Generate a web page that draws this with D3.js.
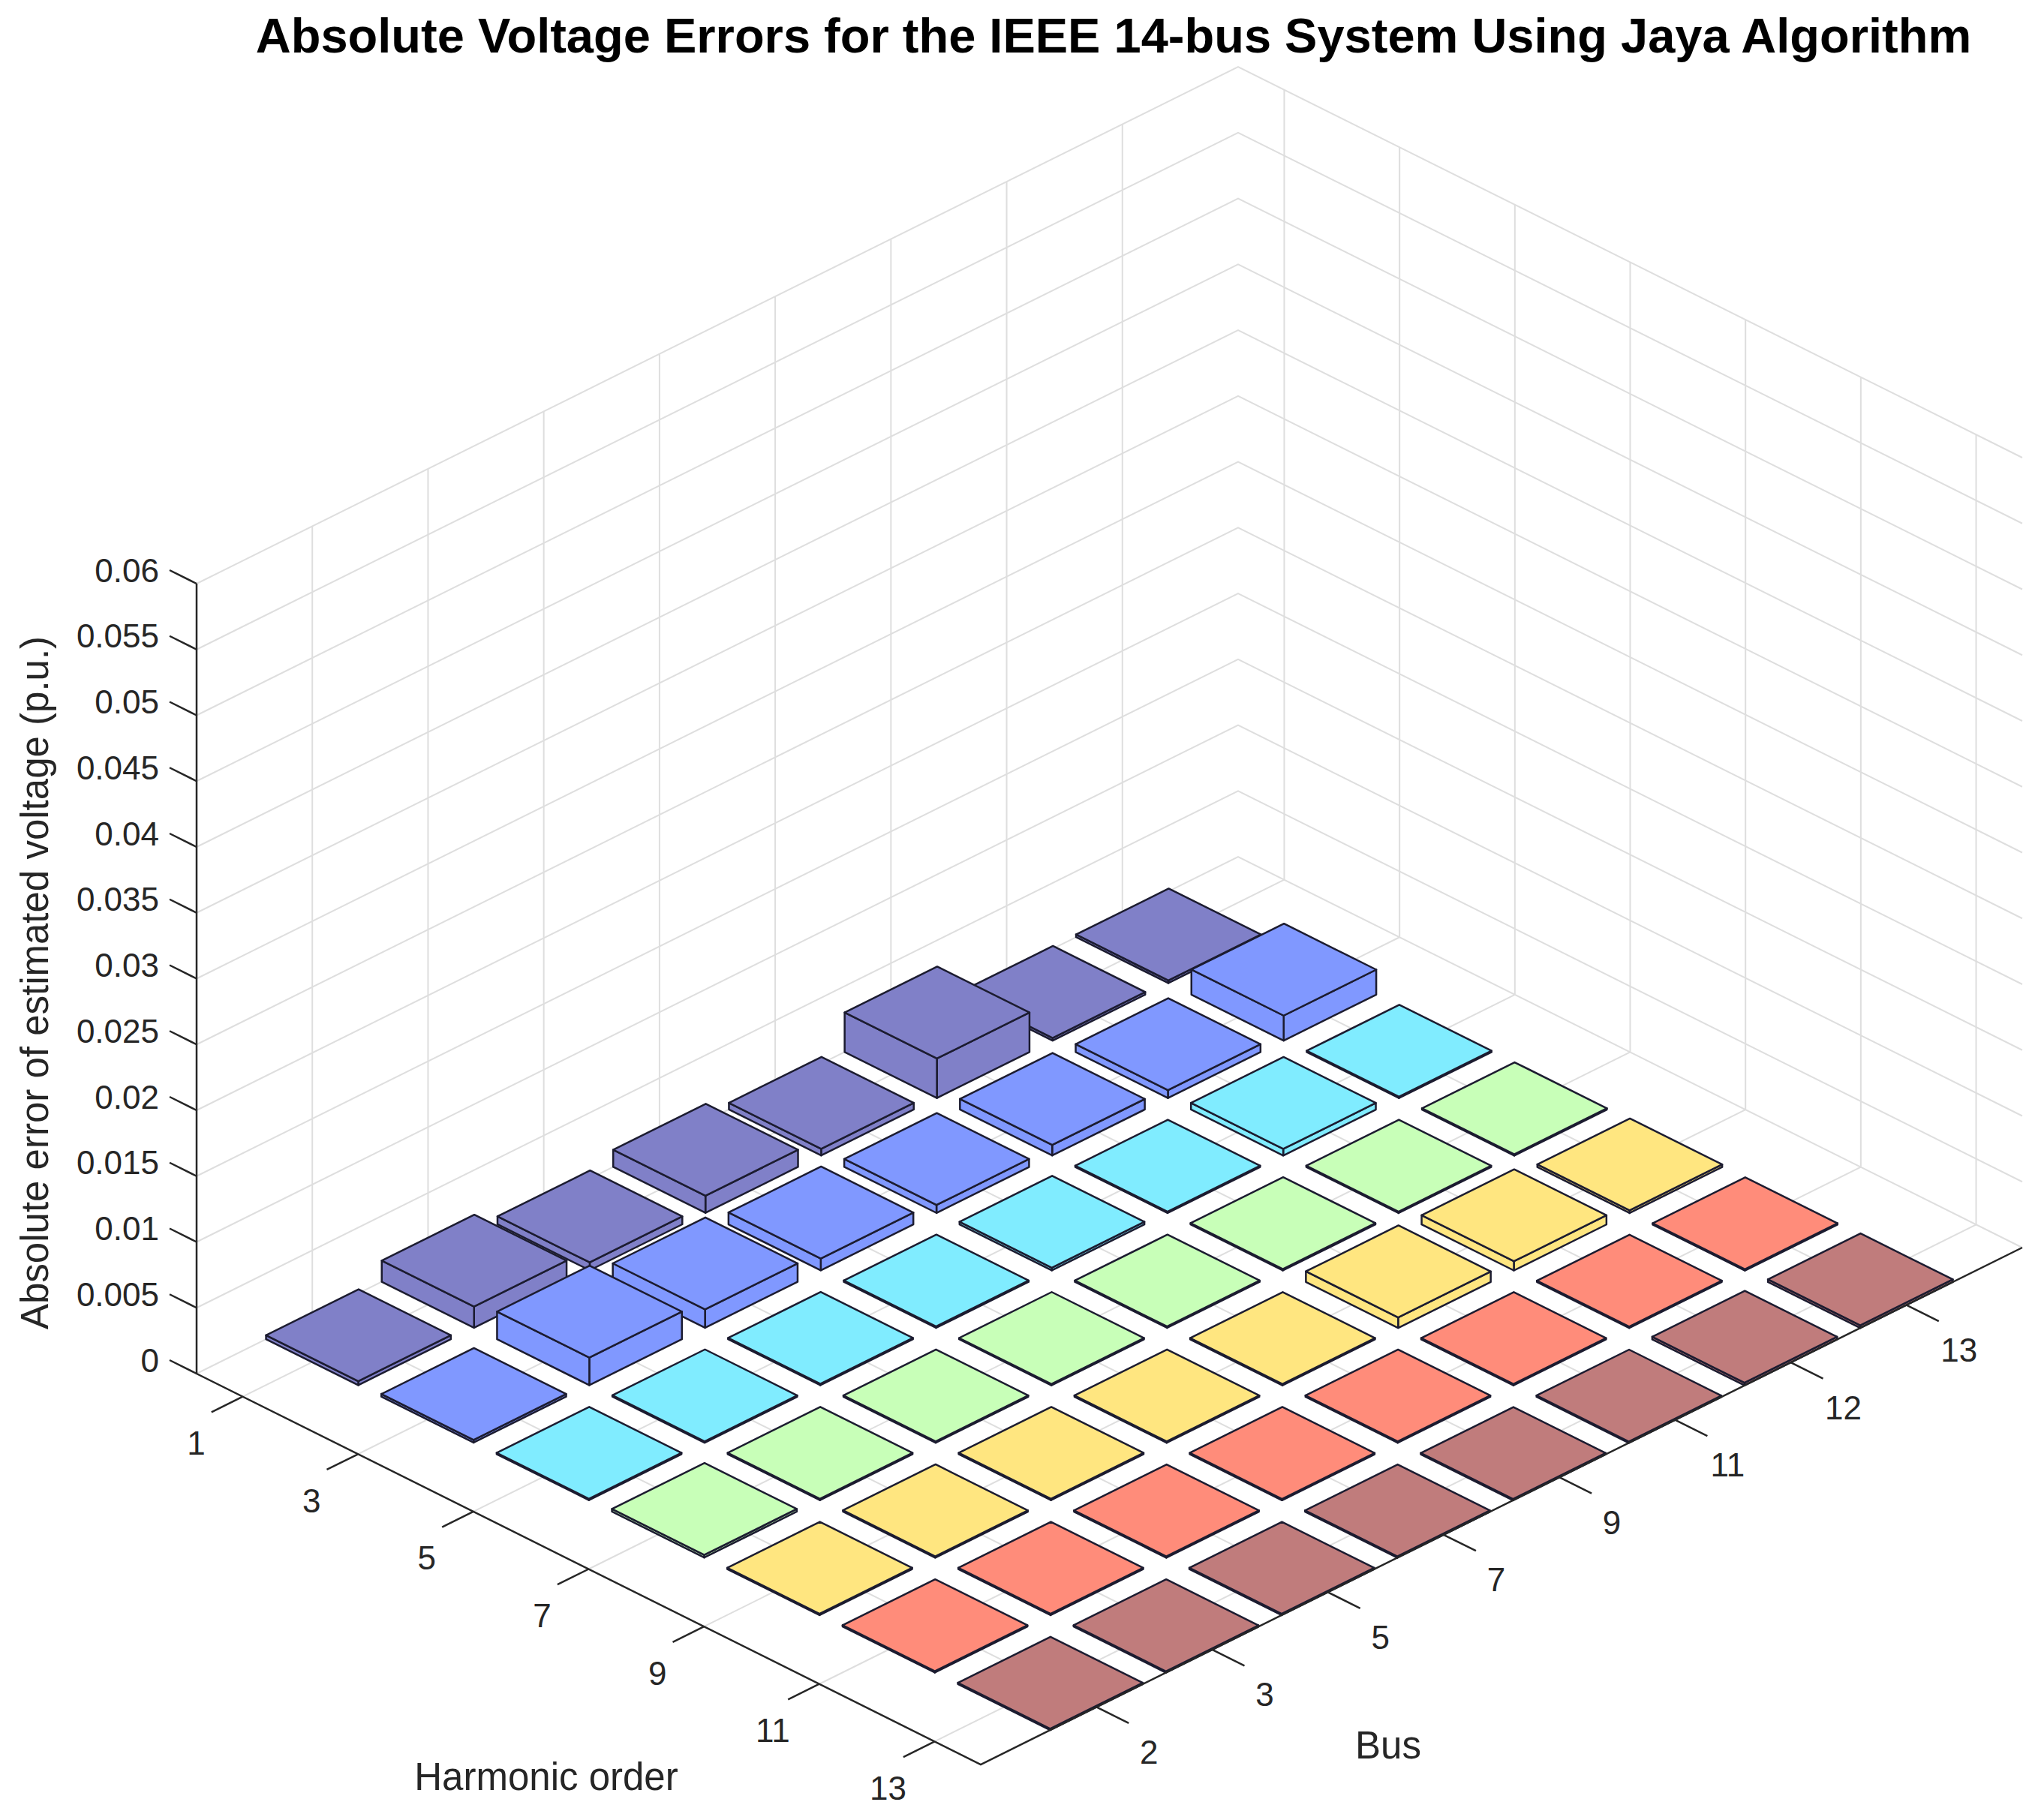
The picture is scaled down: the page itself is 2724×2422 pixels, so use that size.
<!DOCTYPE html>
<html>
<head>
<meta charset="utf-8">
<script src="https://cdn.jsdelivr.net/npm/d3@7"></script>
<style>
  body { margin: 0; background: #fff; }
  text { font-family: "Liberation Sans", Arial, sans-serif; fill: #262626; }
</style>
</head>
<body>
<svg id="chart" width="2724" height="2422"></svg>
<script>
(function() {

    // data
    var harmonics = [1, 3, 5, 7, 9, 11, 13];
    var buses = [2, 3, 5, 7, 9, 11, 12, 13];
    var zTicks = [0, 0.005, 0.01, 0.015, 0.02, 0.025, 0.03, 0.035, 0.04, 0.045, 0.05, 0.055, 0.06];
    var colors = ['#8080c8', '#8098ff', '#80ecff', '#c8ffb8', '#ffe680', '#ff8c7a', '#c07c7c'];

    // one row per harmonic, values per bus
    var errH1  = [0.0003, 0.0016, 0.0006, 0.0013, 0.0005, 0.0030, 0.0002, 0.0002];
    var errH3  = [0.0002, 0.0021, 0.0014, 0.0009, 0.0006, 0.0008, 0.0006, 0.0019];
    var errH5  = [0.0001, 0.0001, 0.0001, 0.0001, 0.0002, 0.0001, 0.0005, 0.0001];
    var errH7  = [0.0002, 0.0001, 0.0001, 0.0001, 0.0001, 0.0001, 0.0001, 0.0001];
    var errH9  = [0.0001, 0.0001, 0.0001, 0.0001, 0.0001, 0.0008, 0.0007, 0.0002];
    var errH11 = [0.0001, 0.0001, 0.0001, 0.0001, 0.0001, 0.0001, 0.0001, 0.0001];
    var errH13 = [0.0001, 0.0001, 0.0001, 0.0001, 0.0001, 0.0001, 0.0002, 0.0002];
    var rows = [errH1, errH3, errH5, errH7, errH9, errH11, errH13];

    var svg = d3.select('#chart');

    // floor corners (left, front, right) and z scale
    var L = [262, 1831], F = [1307, 2352], R = [2695, 1663];
    var hs = d3.scaleLinear().domain([0.6, 7.4]).range([0, 1]);
    var bs = d3.scaleLinear().domain([0, 9]).range([0, 1]);
    var zs = d3.scaleLinear().domain([0, 0.06]).range([0, -1053]);

    function P(h, b, z) {
        var a = hs(h), c = bs(b);
        return [L[0] + a * (F[0] - L[0]) + c * (R[0] - F[0]),
                L[1] + a * (F[1] - L[1]) + c * (R[1] - F[1]) + zs(z)];
    }

    var line = d3.line();
    var grid = svg.append('g').attr('stroke', '#dedede').attr('stroke-width', 2).attr('fill', 'none');

    zTicks.forEach(function(z) {
        grid.append('path').attr('d', line([P(0.6, 0, z), P(0.6, 9, z), P(7.4, 9, z)]));
    });
    d3.range(1, 9).forEach(function(b) {
        grid.append('path').attr('d', line([P(7.4, b, 0), P(0.6, b, 0), P(0.6, b, 0.06)]));
    });
    d3.range(1, 8).forEach(function(h) {
        grid.append('path').attr('d', line([P(h, 0, 0), P(h, 9, 0), P(h, 9, 0.06)]));
    });

    // bars, far to near
    var bars = [];
    rows.forEach(function(row, i) {
        row.forEach(function(v, j) {
            bars.push({h: i + 1, b: j + 1, z: v, color: colors[i]});
        });
    });
    bars.sort(function(p, q) { return (p.h - p.b) - (q.h - q.b); });

    var w = 0.4;
    var g = svg.append('g').attr('stroke', '#1c1c30').attr('stroke-width', 2.5)
        .attr('stroke-linejoin', 'round');
    bars.forEach(function(d) {
        var h0 = d.h - w, h1 = d.h + w, b0 = d.b - w, b1 = d.b + w;
        var faces = [
            [P(h1, b0, 0), P(h1, b1, 0), P(h1, b1, d.z), P(h1, b0, d.z)],
            [P(h0, b0, 0), P(h1, b0, 0), P(h1, b0, d.z), P(h0, b0, d.z)],
            [P(h0, b0, d.z), P(h1, b0, d.z), P(h1, b1, d.z), P(h0, b1, d.z)]
        ];
        faces.forEach(function(f) {
            g.append('path').attr('d', line(f) + 'Z').attr('fill', d.color);
        });
    });

    // axes
    var ax = svg.append('g').attr('stroke', '#262626').attr('stroke-width', 2.5).attr('fill', 'none');
    ax.append('path').attr('d', line([P(0.6, 0, 0.06), P(0.6, 0, 0), P(7.4, 0, 0), P(7.4, 9, 0)]));

    var fmt = function(v) { return String(+v.toFixed(3)); };
    zTicks.forEach(function(z) {
        var p = P(0.6, 0, z), e = [p[0] - 36, p[1] - 18];
        ax.append('path').attr('d', line([p, e]));
        svg.append('text').attr('x', e[0] - 14).attr('y', e[1])
            .attr('text-anchor', 'end').attr('dominant-baseline', 'central')
            .attr('font-size', 44).text(fmt(z));
    });
    harmonics.forEach(function(hv, i) {
        var p = P(i + 1, 0, 0), e = P(i + 1, -0.27, 0);
        ax.append('path').attr('d', line([p, e]));
        svg.append('text').attr('x', p[0] - 62).attr('y', p[1] + 62)
            .attr('text-anchor', 'middle').attr('dominant-baseline', 'central')
            .attr('font-size', 44).text(hv);
    });
    buses.forEach(function(bv, j) {
        var p = P(7.4, j + 1, 0), e = P(7.68, j + 1, 0);
        ax.append('path').attr('d', line([p, e]));
        svg.append('text').attr('x', p[0] + 70).attr('y', p[1] + 60)
            .attr('text-anchor', 'middle').attr('dominant-baseline', 'central')
            .attr('font-size', 44).text(bv);
    });

    // labels
    svg.append('text').attr('x', 728).attr('y', 2368).attr('text-anchor', 'middle')
        .attr('dominant-baseline', 'central').attr('font-size', 51).text('Harmonic order');
    svg.append('text').attr('x', 1850).attr('y', 2326).attr('text-anchor', 'middle')
        .attr('dominant-baseline', 'central').attr('font-size', 51).text('Bus');
    svg.append('text').attr('transform', 'translate(46,1310) rotate(-90)')
        .attr('text-anchor', 'middle').attr('dominant-baseline', 'central')
        .attr('font-size', 51).text('Absolute error of estimated voltage (p.u.)');
    svg.append('text').attr('x', 1484).attr('y', 70).attr('text-anchor', 'middle')
        .attr('font-size', 65).attr('font-weight', 'bold').style('fill', '#000')
        .text('Absolute Voltage Errors for the IEEE 14-bus System Using Jaya Algorithm');

})();
</script>
</body>
</html>
